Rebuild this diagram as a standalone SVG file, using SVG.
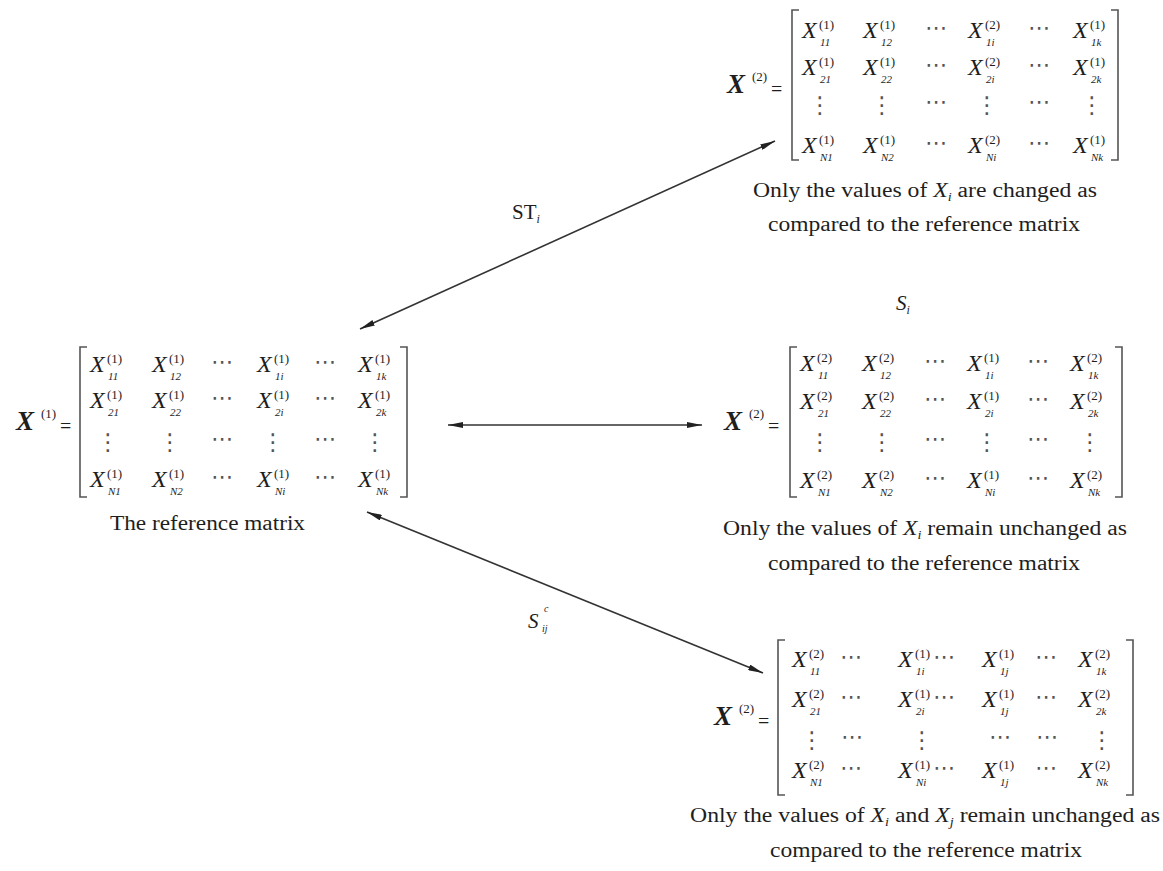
<svg xmlns="http://www.w3.org/2000/svg" width="1163" height="871" viewBox="0 0 1163 871" font-family="Liberation Serif, serif">
<style>
text{fill:#1e1e1e;font-family:"Liberation Serif",serif}
.m{font-style:italic;font-size:24px}
.sp{font-size:13px;font-style:normal}
.sb{font-size:11px}
.hd{font-family:"DejaVu Sans",sans-serif;font-size:22px;text-anchor:middle;fill:#555}
.vd{font-family:"DejaVu Sans",sans-serif;font-size:23px;text-anchor:middle;fill:#555}
.br{fill:none;stroke:#555;stroke-width:1.6}
.lx{font-style:italic;font-weight:bold;font-size:27px}
.eq{font-size:20px}
.cap{font-size:20px}
.it{font-style:italic}
.lbl{font-size:21px}
.con{stroke:#333;stroke-width:1.6;fill:none;marker-start:url(#ah);marker-end:url(#ah)}
</style>
<defs>
<marker id="ah" viewBox="0 0 15 6" refX="15" refY="3" markerWidth="15" markerHeight="6" orient="auto-start-reverse" markerUnits="userSpaceOnUse"><path d="M0,0 L15,3 L0,6 z" fill="#222"/></marker>
</defs>

<g id="connectors">
<line class="con" x1="360" y1="329" x2="775" y2="141"/>
<line class="con" x1="448" y1="425" x2="702" y2="425"/>
<line class="con" x1="367" y1="512" x2="763" y2="673"/>
<text class="lbl" x="512" y="219">ST<tspan class="it" font-size="12" dy="4">i</tspan></text>
<text class="lbl it" x="896" y="310" font-size="22">S<tspan font-size="12" dy="4">i</tspan></text>
<text class="lbl it" x="528" y="628" font-size="22">S<tspan font-size="10" x="544" y="612">c</tspan><tspan font-size="10" x="542" y="632">ij</tspan></text>
</g>

<g id="matrix-reference">
<text class="lx" x="16" y="430">X</text><text class="sp" x="41" y="418">(1)</text><text class="eq" x="60" y="433">=</text>
<path class="br" d="M87,347 H80 V497 H87 M400,347 H407 V497 H400"/>
<text class="m" x="90" y="372">X<tspan class="sp" x="107" y="363">(1)</tspan><tspan class="sb" x="108" y="380">11</tspan></text>
<text class="m" x="152" y="372">X<tspan class="sp" x="169" y="363">(1)</tspan><tspan class="sb" x="170" y="380">12</tspan></text>
<text class="hd" x="222" y="369">⋯</text>
<text class="m" x="257" y="372">X<tspan class="sp" x="274" y="363">(1)</tspan><tspan class="sb" x="275" y="380">1i</tspan></text>
<text class="hd" x="325" y="369">⋯</text>
<text class="m" x="358" y="372">X<tspan class="sp" x="375" y="363">(1)</tspan><tspan class="sb" x="376" y="380">1k</tspan></text>
<text class="m" x="90" y="408">X<tspan class="sp" x="107" y="399">(1)</tspan><tspan class="sb" x="108" y="416">21</tspan></text>
<text class="m" x="152" y="408">X<tspan class="sp" x="169" y="399">(1)</tspan><tspan class="sb" x="170" y="416">22</tspan></text>
<text class="hd" x="222" y="405">⋯</text>
<text class="m" x="257" y="408">X<tspan class="sp" x="274" y="399">(1)</tspan><tspan class="sb" x="275" y="416">2i</tspan></text>
<text class="hd" x="325" y="405">⋯</text>
<text class="m" x="358" y="408">X<tspan class="sp" x="375" y="399">(1)</tspan><tspan class="sb" x="376" y="416">2k</tspan></text>
<text class="vd" x="108" y="450">⋮</text><text class="vd" x="170" y="450">⋮</text><text class="hd" x="222" y="446">⋯</text><text class="vd" x="273" y="450">⋮</text><text class="hd" x="325" y="446">⋯</text><text class="vd" x="375" y="450">⋮</text>
<text class="m" x="90" y="487">X<tspan class="sp" x="107" y="478">(1)</tspan><tspan class="sb" x="108" y="495">N1</tspan></text>
<text class="m" x="152" y="487">X<tspan class="sp" x="169" y="478">(1)</tspan><tspan class="sb" x="170" y="495">N2</tspan></text>
<text class="hd" x="222" y="484">⋯</text>
<text class="m" x="257" y="487">X<tspan class="sp" x="274" y="478">(1)</tspan><tspan class="sb" x="275" y="495">Ni</tspan></text>
<text class="hd" x="325" y="484">⋯</text>
<text class="m" x="358" y="487">X<tspan class="sp" x="375" y="478">(1)</tspan><tspan class="sb" x="376" y="495">Nk</tspan></text>
<text class="cap" x="110" y="530" textLength="195" lengthAdjust="spacingAndGlyphs">The reference matrix</text>
</g>

<g id="matrix-st">
<text class="lx" x="727" y="93">X</text><text class="sp" x="752" y="81">(2)</text><text class="eq" x="771" y="96">=</text>
<path class="br" d="M799,10 H792 V160 H799 M1111,10 H1118 V160 H1111"/>
<text class="m" x="802" y="38">X<tspan class="sp" x="819" y="29">(1)</tspan><tspan class="sb" x="820" y="46">11</tspan></text>
<text class="m" x="863" y="38">X<tspan class="sp" x="880" y="29">(1)</tspan><tspan class="sb" x="881" y="46">12</tspan></text>
<text class="hd" x="936" y="35">⋯</text>
<text class="m" x="968" y="38">X<tspan class="sp" x="985" y="29">(2)</tspan><tspan class="sb" x="986" y="46">1i</tspan></text>
<text class="hd" x="1039" y="35">⋯</text>
<text class="m" x="1073" y="38">X<tspan class="sp" x="1090" y="29">(1)</tspan><tspan class="sb" x="1091" y="46">1k</tspan></text>
<text class="m" x="802" y="75">X<tspan class="sp" x="819" y="66">(1)</tspan><tspan class="sb" x="820" y="83">21</tspan></text>
<text class="m" x="863" y="75">X<tspan class="sp" x="880" y="66">(1)</tspan><tspan class="sb" x="881" y="83">22</tspan></text>
<text class="hd" x="936" y="72">⋯</text>
<text class="m" x="968" y="75">X<tspan class="sp" x="985" y="66">(2)</tspan><tspan class="sb" x="986" y="83">2i</tspan></text>
<text class="hd" x="1039" y="72">⋯</text>
<text class="m" x="1073" y="75">X<tspan class="sp" x="1090" y="66">(1)</tspan><tspan class="sb" x="1091" y="83">2k</tspan></text>
<text class="vd" x="820" y="113">⋮</text><text class="vd" x="882" y="113">⋮</text><text class="hd" x="936" y="109">⋯</text><text class="vd" x="987" y="113">⋮</text><text class="hd" x="1039" y="109">⋯</text><text class="vd" x="1092" y="113">⋮</text>
<text class="m" x="802" y="153">X<tspan class="sp" x="819" y="144">(1)</tspan><tspan class="sb" x="820" y="161">N1</tspan></text>
<text class="m" x="863" y="153">X<tspan class="sp" x="880" y="144">(1)</tspan><tspan class="sb" x="881" y="161">N2</tspan></text>
<text class="hd" x="936" y="150">⋯</text>
<text class="m" x="968" y="153">X<tspan class="sp" x="985" y="144">(2)</tspan><tspan class="sb" x="986" y="161">Ni</tspan></text>
<text class="hd" x="1039" y="150">⋯</text>
<text class="m" x="1073" y="153">X<tspan class="sp" x="1090" y="144">(1)</tspan><tspan class="sb" x="1091" y="161">Nk</tspan></text>
<text class="cap" x="753" y="197" textLength="344" lengthAdjust="spacingAndGlyphs">Only the values of <tspan class="it">X</tspan><tspan class="it" font-size="12" dy="4">i</tspan><tspan dy="-4"> are changed as</tspan></text>
<text class="cap" x="768" y="231" textLength="312" lengthAdjust="spacingAndGlyphs">compared to the reference matrix</text>
</g>

<g id="matrix-s">
<text class="lx" x="724" y="430">X</text><text class="sp" x="749" y="418">(2)</text><text class="eq" x="768" y="433">=</text>
<path class="br" d="M797,347 H790 V497 H797 M1115,347 H1122 V497 H1115"/>
<text class="m" x="800" y="371">X<tspan class="sp" x="817" y="362">(2)</tspan><tspan class="sb" x="818" y="379">11</tspan></text>
<text class="m" x="862" y="371">X<tspan class="sp" x="879" y="362">(2)</tspan><tspan class="sb" x="880" y="379">12</tspan></text>
<text class="hd" x="935" y="368">⋯</text>
<text class="m" x="967" y="371">X<tspan class="sp" x="984" y="362">(1)</tspan><tspan class="sb" x="985" y="379">1i</tspan></text>
<text class="hd" x="1038" y="368">⋯</text>
<text class="m" x="1070" y="371">X<tspan class="sp" x="1087" y="362">(2)</tspan><tspan class="sb" x="1088" y="379">1k</tspan></text>
<text class="m" x="800" y="409">X<tspan class="sp" x="817" y="400">(2)</tspan><tspan class="sb" x="818" y="417">21</tspan></text>
<text class="m" x="862" y="409">X<tspan class="sp" x="879" y="400">(2)</tspan><tspan class="sb" x="880" y="417">22</tspan></text>
<text class="hd" x="935" y="406">⋯</text>
<text class="m" x="967" y="409">X<tspan class="sp" x="984" y="400">(1)</tspan><tspan class="sb" x="985" y="417">2i</tspan></text>
<text class="hd" x="1038" y="406">⋯</text>
<text class="m" x="1070" y="409">X<tspan class="sp" x="1087" y="400">(2)</tspan><tspan class="sb" x="1088" y="417">2k</tspan></text>
<text class="vd" x="820" y="450">⋮</text><text class="vd" x="882" y="450">⋮</text><text class="hd" x="935" y="446">⋯</text><text class="vd" x="987" y="450">⋮</text><text class="hd" x="1038" y="446">⋯</text><text class="vd" x="1090" y="450">⋮</text>
<text class="m" x="800" y="488">X<tspan class="sp" x="817" y="479">(2)</tspan><tspan class="sb" x="818" y="496">N1</tspan></text>
<text class="m" x="862" y="488">X<tspan class="sp" x="879" y="479">(2)</tspan><tspan class="sb" x="880" y="496">N2</tspan></text>
<text class="hd" x="935" y="485">⋯</text>
<text class="m" x="967" y="488">X<tspan class="sp" x="984" y="479">(1)</tspan><tspan class="sb" x="985" y="496">Ni</tspan></text>
<text class="hd" x="1038" y="485">⋯</text>
<text class="m" x="1070" y="488">X<tspan class="sp" x="1087" y="479">(2)</tspan><tspan class="sb" x="1088" y="496">Nk</tspan></text>
<text class="cap" x="723" y="535" textLength="404" lengthAdjust="spacingAndGlyphs">Only the values of <tspan class="it">X</tspan><tspan class="it" font-size="12" dy="4">i</tspan><tspan dy="-4"> remain unchanged as</tspan></text>
<text class="cap" x="768" y="570" textLength="312" lengthAdjust="spacingAndGlyphs">compared to the reference matrix</text>
</g>

<g id="matrix-sij">
<text class="lx" x="714" y="725">X</text><text class="sp" x="739" y="713">(2)</text><text class="eq" x="758" y="728">=</text>
<path class="br" d="M785,640 H778 V795 H785 M1126,640 H1133 V795 H1126"/>
<text class="m" x="792" y="667">X<tspan class="sp" x="809" y="658">(2)</tspan><tspan class="sb" x="810" y="675">11</tspan></text>
<text class="hd" x="851" y="664">⋯</text>
<text class="m" x="898" y="667">X<tspan class="sp" x="915" y="658">(1)</tspan><tspan class="sb" x="916" y="675">1i</tspan></text>
<text class="hd" x="944" y="664">⋯</text>
<text class="m" x="982" y="667">X<tspan class="sp" x="999" y="658">(1)</tspan><tspan class="sb" x="1000" y="675">1j</tspan></text>
<text class="hd" x="1046" y="664">⋯</text>
<text class="m" x="1078" y="667">X<tspan class="sp" x="1095" y="658">(2)</tspan><tspan class="sb" x="1096" y="675">1k</tspan></text>
<text class="m" x="792" y="707">X<tspan class="sp" x="809" y="698">(2)</tspan><tspan class="sb" x="810" y="715">21</tspan></text>
<text class="hd" x="851" y="704">⋯</text>
<text class="m" x="898" y="707">X<tspan class="sp" x="915" y="698">(1)</tspan><tspan class="sb" x="916" y="715">2i</tspan></text>
<text class="hd" x="944" y="704">⋯</text>
<text class="m" x="982" y="707">X<tspan class="sp" x="999" y="698">(1)</tspan><tspan class="sb" x="1000" y="715">1j</tspan></text>
<text class="hd" x="1046" y="704">⋯</text>
<text class="m" x="1078" y="707">X<tspan class="sp" x="1095" y="698">(2)</tspan><tspan class="sb" x="1096" y="715">2k</tspan></text>
<text class="vd" x="812" y="748">⋮</text><text class="hd" x="852" y="744">⋯</text><text class="vd" x="922" y="748">⋮</text><text class="hd" x="1000" y="744">⋯</text><text class="hd" x="1047" y="744">⋯</text><text class="vd" x="1102" y="748">⋮</text>
<text class="m" x="792" y="778">X<tspan class="sp" x="809" y="769">(2)</tspan><tspan class="sb" x="810" y="786">N1</tspan></text>
<text class="hd" x="851" y="775">⋯</text>
<text class="m" x="898" y="778">X<tspan class="sp" x="915" y="769">(1)</tspan><tspan class="sb" x="916" y="786">Ni</tspan></text>
<text class="hd" x="944" y="775">⋯</text>
<text class="m" x="982" y="778">X<tspan class="sp" x="999" y="769">(1)</tspan><tspan class="sb" x="1000" y="786">1j</tspan></text>
<text class="hd" x="1046" y="775">⋯</text>
<text class="m" x="1078" y="778">X<tspan class="sp" x="1095" y="769">(2)</tspan><tspan class="sb" x="1096" y="786">Nk</tspan></text>
<text class="cap" x="690" y="822" textLength="470" lengthAdjust="spacingAndGlyphs">Only the values of <tspan class="it">X</tspan><tspan class="it" font-size="12" dy="4">i</tspan><tspan dy="-4"> and </tspan><tspan class="it">X</tspan><tspan class="it" font-size="12" dy="4">j</tspan><tspan dy="-4"> remain unchanged as</tspan></text>
<text class="cap" x="770" y="857" textLength="312" lengthAdjust="spacingAndGlyphs">compared to the reference matrix</text>
</g>
</svg>
